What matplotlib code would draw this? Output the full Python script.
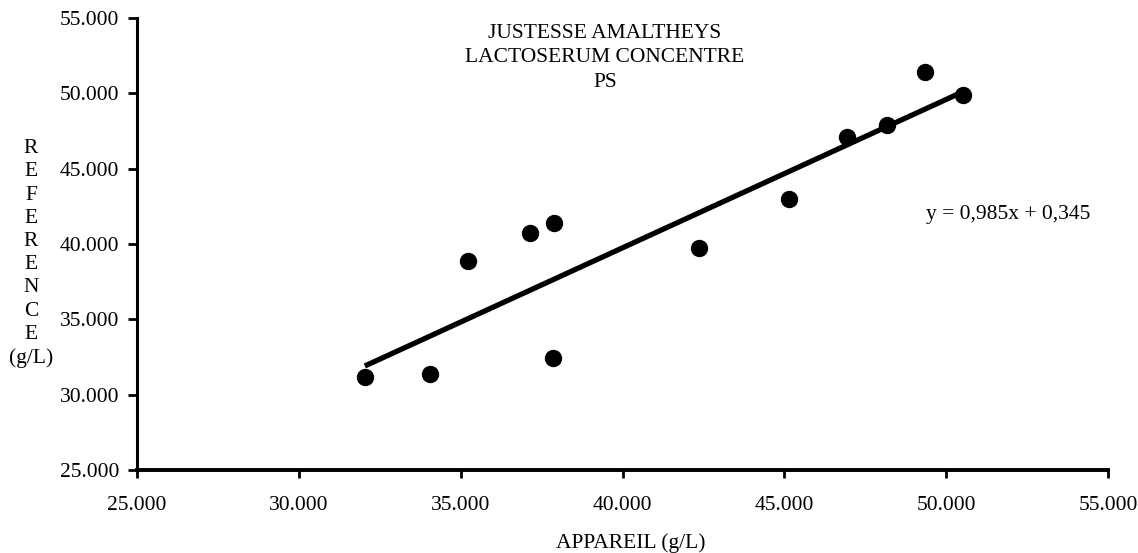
import numpy as np
import matplotlib
matplotlib.use("Agg")
import matplotlib.pyplot as plt
from matplotlib.ticker import FormatStrFormatter, MultipleLocator

# Measured values (g/L): instrument vs reference
appareil = [32.04, 34.05, 35.23, 37.14, 37.89, 37.84, 42.36, 45.14, 46.94, 48.16, 49.34, 50.53]
reference = [31.17, 31.35, 38.87, 40.71, 41.41, 32.41, 39.75, 42.96, 47.12, 47.89, 51.43, 49.88]

# Trend line from the chart's equation
slope = 0.985
intercept = 0.345

plt.rcParams["font.family"] = ["Liberation Serif", "DejaVu Serif"]
fs = 15.5

fig = plt.figure(figsize=(11.38, 5.53), dpi=100)
ax = fig.add_axes([137 / 1138, 1 - 470 / 553, (1108 - 137) / 1138, (470 - 18) / 553])

ax.scatter(appareil, reference, s=11.5 ** 2, color="black", zorder=3)

xs = np.array([min(appareil), max(appareil)])
ax.plot(xs, slope * xs + intercept, color="black", linewidth=3.8,
        solid_capstyle="butt", zorder=2)

ax.set_xlim(25, 55)
ax.set_ylim(25, 55)
ax.xaxis.set_major_locator(MultipleLocator(5))
ax.yaxis.set_major_locator(MultipleLocator(5))
ax.xaxis.set_major_formatter(FormatStrFormatter("%.3f"))
ax.yaxis.set_major_formatter(FormatStrFormatter("%.3f"))

for side in ["top", "right"]:
    ax.spines[side].set_visible(False)
ax.spines["left"].set_linewidth(2.2)
ax.spines["bottom"].set_linewidth(2.8)
ax.tick_params(axis="x", direction="out", length=6, width=2, pad=13, labelsize=fs)
ax.tick_params(axis="y", direction="out", length=6.5, width=2, pad=6.5, labelsize=fs)

# Title inside the plot area
fig.text(605 / 1138, 1 - 24 / 553, "JUSTESSE AMALTHEYS\nLACTOSERUM CONCENTRE\nPS",
         ha="center", va="top", fontsize=fs, linespacing=1.38, multialignment="center")

# Regression equation
fig.text(926 / 1138, 1 - 219 / 553, "y = 0,985x + 0,345", ha="left", va="baseline", fontsize=fs)

# Axis labels
fig.text(631 / 1138, 1 - 548 / 553, "APPAREIL (g/L)", ha="center", va="baseline", fontsize=fs)
fig.text(31 / 1138, 1 - 253.5 / 553, "R\nE\nF\nE\nR\nE\nN\nC\nE\n(g/L)",
         ha="center", va="center", fontsize=fs, linespacing=1.3, multialignment="center")

fig.savefig("out.png", dpi=100)
